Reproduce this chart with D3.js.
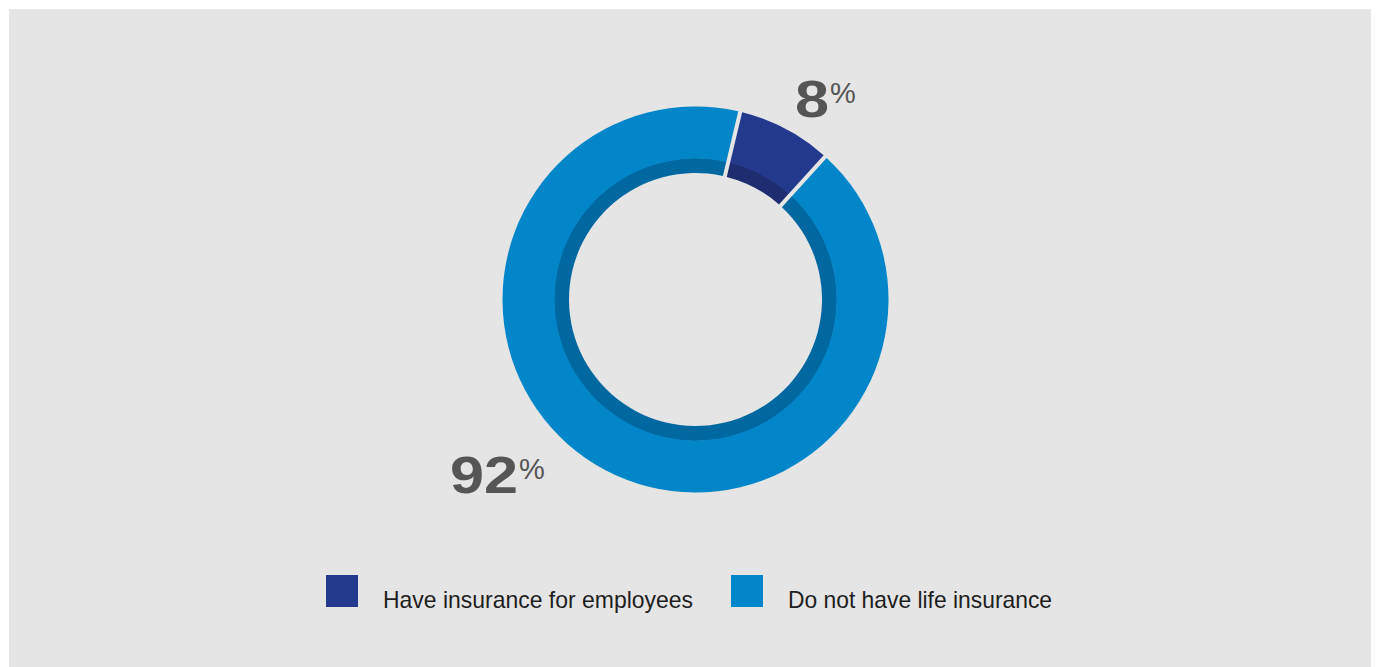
<!DOCTYPE html>
<html>
<head>
<meta charset="utf-8">
<script src="https://cdn.jsdelivr.net/npm/d3@7"></script>
<style>
  html, body { margin: 0; padding: 0; background: #ffffff; }
  svg { display: block; }
</style>
</head>
<body>
<svg id="chart" width="1376" height="667"></svg>
<script>
// Survey result: share of companies with employee life insurance
const categories = ["Have insurance for employees", "Do not have life insurance"];
const values = [8, 92];
const valueLabels = ["8", "92"];
const colors = ["#22398e", "#0086c9"];
const innerColors = ["#1e2d6f", "#0068a1"];

const W = 1376, H = 667;
const svg = d3.select("#chart");

// panel
svg.append("rect")
  .attr("x", 9).attr("y", 9)
  .attr("width", W - 9 - 5).attr("height", H - 9)
  .attr("fill", "#e5e5e5");

const cx = 695.5, cy = 299.5;
const rOuter = 193, rMid = 141, rInner = 126.5;
const gap = 4;

const start = 13.4 * Math.PI / 180;
const pie = d3.pie().sort(null).startAngle(start).endAngle(start + 2 * Math.PI);
const arcs = pie(values);

const outerArc = d3.arc().innerRadius(rMid).outerRadius(rOuter)
  .padRadius(rOuter).padAngle(gap / rOuter);
const innerArc = d3.arc().innerRadius(rInner).outerRadius(rMid + 0.5)
  .padRadius(rOuter).padAngle(gap / rOuter);

const g = svg.append("g").attr("transform", `translate(${cx},${cy})`);

g.selectAll("path.inner").data(arcs).join("path")
  .attr("class", "inner")
  .attr("d", innerArc)
  .attr("fill", (d, i) => innerColors[i]);

g.selectAll("path.outer").data(arcs).join("path")
  .attr("class", "outer")
  .attr("d", outerArc)
  .attr("fill", (d, i) => colors[i]);

// value labels: wide bold figures with a small raised percent sign
const labelFont = "'Liberation Sans', Arial, Helvetica, sans-serif";
const labelPos = [
  { x: 795, y: 116.7 },
  { x: 450, y: 492.7 }
];
const figureStretch = 1.2;
labelPos.forEach((p, i) => {
  const num = svg.append("text")
    .attr("transform", `translate(${p.x},${p.y}) scale(${figureStretch},1)`)
    .attr("font-family", labelFont)
    .attr("font-size", 51)
    .attr("font-weight", "bold")
    .attr("fill", "#555555")
    .text(valueLabels[i]);
  const w = num.node().getComputedTextLength() * figureStretch;
  svg.append("text")
    .attr("x", p.x + w + 1)
    .attr("y", p.y - 13.5)
    .attr("font-family", labelFont)
    .attr("font-size", 29)
    .attr("fill", "#555555")
    .text("%");
});

// legend
const legendX = [326, 731];
const legendTextW = [310, 264];
categories.forEach((c, i) => {
  svg.append("rect")
    .attr("x", legendX[i]).attr("y", 575)
    .attr("width", 32).attr("height", 32)
    .attr("fill", colors[i]);
  svg.append("text")
    .attr("x", legendX[i] + 57).attr("y", 608)
    .attr("font-family", labelFont)
    .attr("font-size", 24)
    .attr("fill", "#1e1e1e")
    .attr("textLength", legendTextW[i])
    .attr("lengthAdjust", "spacingAndGlyphs")
    .text(c);
});
</script>
</body>
</html>
